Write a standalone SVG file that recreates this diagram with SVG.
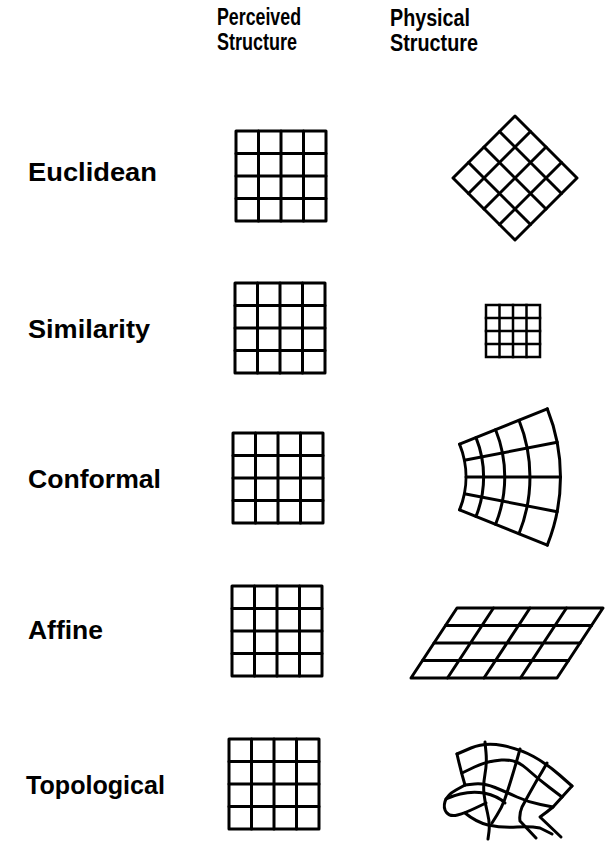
<svg xmlns="http://www.w3.org/2000/svg" width="611" height="843" viewBox="0 0 611 843">
<style>
text{font-family:"Liberation Sans",Arial,Helvetica,sans-serif;font-weight:bold;fill:#000}
.h{font-size:23px}
.l{font-size:26px}
.g{fill:none;stroke:#000;stroke-width:3;stroke-linecap:round;stroke-linejoin:round}
.gs{fill:none;stroke:#000;stroke-width:2.5;stroke-linecap:square}
</style>
<defs>
<g id="grid4">
<rect x="0" y="0" width="90" height="90"/>
<path d="M22.5,0V90M45,0V90M67.5,0V90M0,22.5H90M0,45H90M0,67.5H90"/>
</g>
</defs>
<rect width="611" height="843" fill="#fff"/>
<g id="headers">
<text class="h" x="217" y="25" textLength="84" lengthAdjust="spacingAndGlyphs">Perceived</text>
<text class="h" x="217" y="50" textLength="80" lengthAdjust="spacingAndGlyphs">Structure</text>
<text class="h" x="390" y="26" textLength="80" lengthAdjust="spacingAndGlyphs">Physical</text>
<text class="h" x="390" y="51" textLength="88" lengthAdjust="spacingAndGlyphs">Structure</text>
</g>
<g id="labels">
<text class="l" x="28" y="181" textLength="129" lengthAdjust="spacingAndGlyphs">Euclidean</text>
<text class="l" x="28" y="338" textLength="122" lengthAdjust="spacingAndGlyphs">Similarity</text>
<text class="l" x="28" y="488" textLength="133" lengthAdjust="spacingAndGlyphs">Conformal</text>
<text class="l" x="28" y="639" textLength="75" lengthAdjust="spacingAndGlyphs">Affine</text>
<text class="l" x="26" y="794" textLength="139" lengthAdjust="spacingAndGlyphs">Topological</text>
</g>
<g id="perceived-euclidean" class="g"><use href="#grid4" transform="translate(236,131)"/></g>
<g id="perceived-similarity" class="g"><use href="#grid4" transform="translate(235,283)"/></g>
<g id="perceived-conformal" class="g"><use href="#grid4" transform="translate(233,433)"/></g>
<g id="perceived-affine" class="g"><use href="#grid4" transform="translate(232,586)"/></g>
<g id="perceived-topological" class="g"><use href="#grid4" transform="translate(229,739)"/></g>
<g id="physical-euclidean" class="g">
<path d="M453,178L515,116L577,178L515,240Z"/>
<path d="M468.5,193.5L530.5,131.5M484,209L546,147M499.5,224.5L561.5,162.5M468.5,162.5L530.5,224.5M484,147L546,209M499.5,131.5L561.5,193.5"/>
</g>
<g id="physical-similarity" class="gs">
<rect x="486" y="305" width="54" height="52"/>
<path d="M499.5,305V357M513,305V357M526.5,305V357M486,318H540M486,331H540M486,344H540"/>
</g>
<g id="physical-conformal" class="g">
<path d="M459.6,444.2L547.3,408.9M464.4,460.3L557.2,442.3M466,477L560.5,477M464.4,493.7L557.2,511.7M459.6,509.8L547.3,545.1"/>
<path d="M459.6,444.2A88,88 0 0 1 459.6,509.8M476,437.6A105.6,105.6 0 0 1 476,516.4M495.6,429.7A126.7,126.7 0 0 1 495.6,524.3M519,420.3A152,152 0 0 1 519,533.7M547.3,408.9A182.5,182.5 0 0 1 547.3,545.1"/>
</g>
<g id="physical-affine" class="g">
<path d="M457,608L603,608L557,678L411,678Z"/>
<path d="M445.5,625.5H591.5M434,643H580M422.5,660.5H568.5M493.5,608L447.5,678M530,608L484,678M566.5,608L520.5,678"/>
</g>
<g id="physical-topological" class="g">
<path d="M457,754L471,748Q485,742 502.5,745.5Q520,749 533.5,756.5Q547,764 559.5,775L572,786"/>
<path d="M572,786Q562,797 553,807Q547,812 540,817L561,837"/>
<path d="M457,754Q461,772 465,785"/>
<path d="M465,785L456,790Q447,795 445,801.5Q443,808 446.5,812.5Q450,817 457.5,815Q465,813 475.5,808L486,803"/>
<path d="M485,742L486,752.5Q487,763 485,774Q483,785 484,794Q485,803 487.5,813Q490,823 489,831.5L488,839"/>
<path d="M520,749L517.5,758Q515,767 511,780Q507,793 504.5,800Q502,807 497,815L492,823"/>
<path d="M547,763Q542,772 537,780Q529,794 522,807Q519,814 520,821L536,838"/>
<path d="M462,773L474.5,767Q487,761 501.5,760Q516,759 526.5,768.5Q537,778 549.5,787.5L562,797"/>
<path d="M465,785L474.5,784Q484,783 495,787.5Q506,792 517,797Q528,802 540.5,804.5L553,807"/>
<path d="M446,799Q465,790 484,793Q498,796 505,803"/>
<path d="M465,813Q476,822 488,825Q502,828 517,827Q530,826 540,828L552,834"/>
</g>
</svg>
